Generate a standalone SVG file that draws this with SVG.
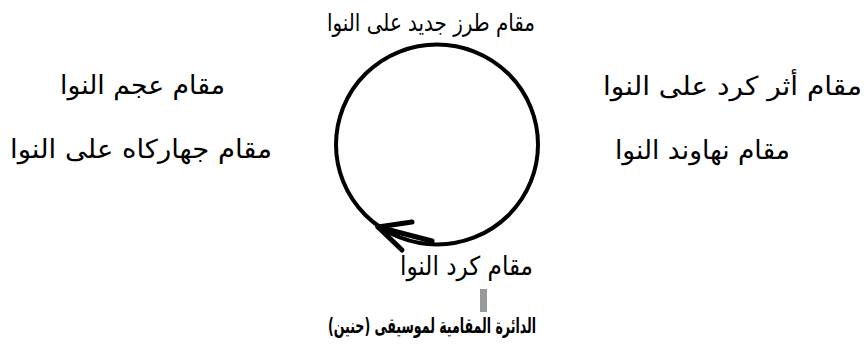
<svg xmlns="http://www.w3.org/2000/svg" width="867" height="349" viewBox="0 0 867 349">
<style>
text{font-family:"DejaVu Sans","Liberation Sans",Arial,sans-serif;font-size:26px;fill:#000;text-anchor:middle;direction:rtl}
.cap{font-family:"DejaVu Sans Condensed","DejaVu Sans",sans-serif;font-weight:bold;font-size:21px}
</style>
<rect width="867" height="349" fill="#fff"/>
<g id="connectors">
<ellipse cx="437" cy="144.5" rx="101" ry="100" fill="none" stroke="#000" stroke-width="4"/>
<polyline points="412,222 378,227 402,250" fill="none" stroke="#000" stroke-width="5" stroke-linecap="round" stroke-linejoin="round"/>
<line x1="378" y1="227" x2="432" y2="241" stroke="#000" stroke-width="5" stroke-linecap="round"/>
</g>
<g id="n-top"><text x="431" y="31" style="font-size:24px" textLength="208" lengthAdjust="spacingAndGlyphs">مقام طرز جديد على النوا</text></g>
<g id="n-right1"><text x="732.5" y="95" textLength="259" lengthAdjust="spacingAndGlyphs">مقام أثر كرد على النوا</text></g>
<g id="n-right2"><text x="702.5" y="159" textLength="175" lengthAdjust="spacingAndGlyphs">مقام نهاوند النوا</text></g>
<g id="n-left1"><text x="142.5" y="94" textLength="165" lengthAdjust="spacingAndGlyphs">مقام عجم النوا</text></g>
<g id="n-left2"><text x="141" y="158" textLength="262" lengthAdjust="spacingAndGlyphs">مقام جهاركاه على النوا</text></g>
<g id="n-bottom"><text x="466.5" y="275" textLength="133" lengthAdjust="spacingAndGlyphs">مقام كرد النوا</text></g>
<rect x="480" y="289" width="7" height="23" fill="#999"/>
<g id="caption"><text class="cap" x="432" y="333" textLength="208" lengthAdjust="spacingAndGlyphs">الدائرة المقامية لموسيقى (حنين)</text></g>
</svg>
